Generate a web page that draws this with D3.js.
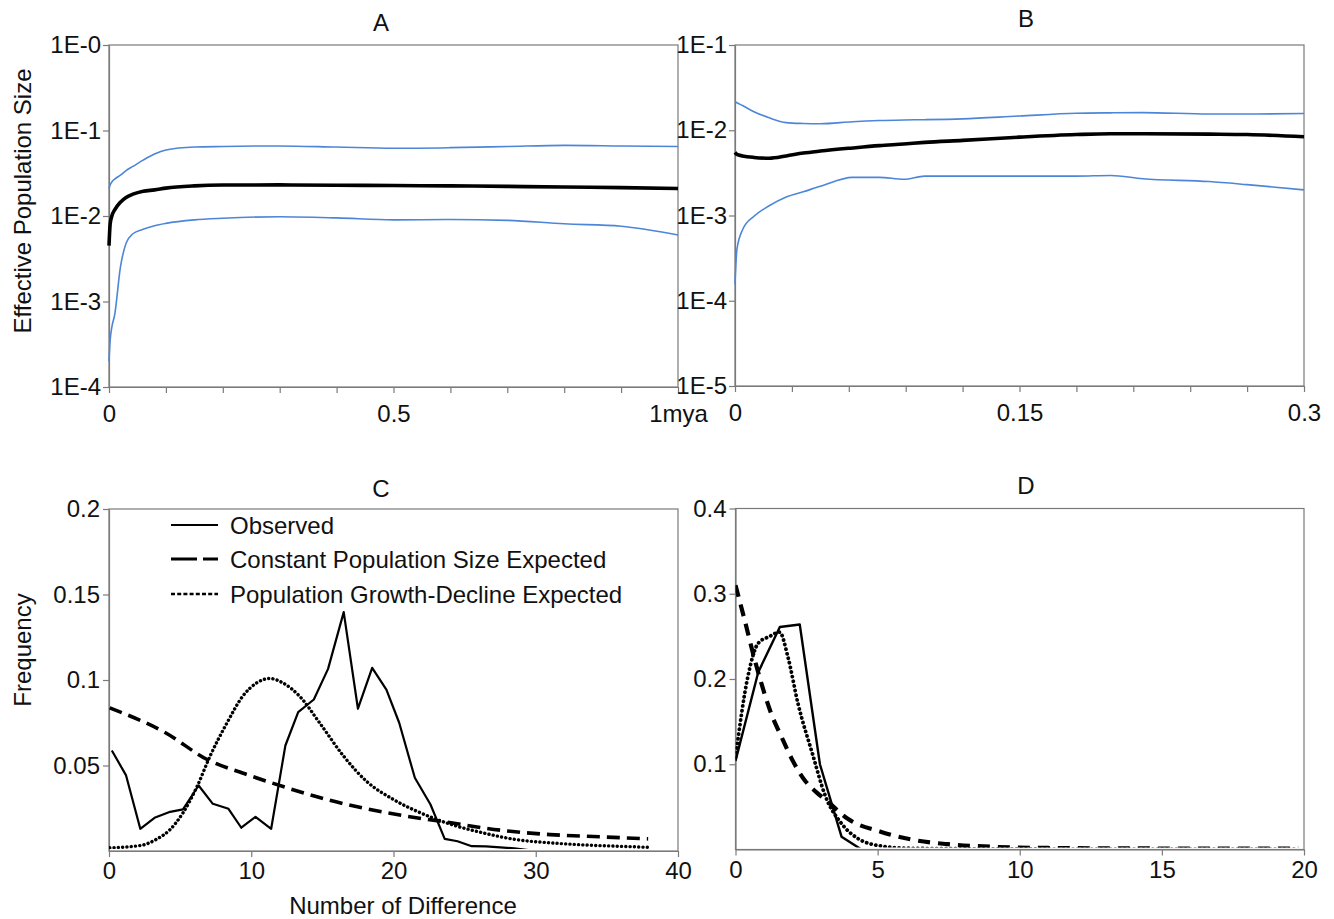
<!DOCTYPE html>
<html>
<head>
<meta charset="utf-8">
<script src="https://cdn.jsdelivr.net/npm/d3@7"></script>
<style>
  html, body { margin: 0; padding: 0; background: #fff; }
  svg { display: block; font-family: "Liberation Sans", Arial, sans-serif; }
</style>
</head>
<body>
<svg id="chart" width="1334" height="919"></svg>
<script>
// ---------------- Panel A (Bayesian skyline, 0 - 1 mya) ----------------
const aTime   = [0, 0.002, 0.005, 0.01, 0.02, 0.03, 0.042, 0.06, 0.08, 0.1, 0.15, 0.2, 0.3, 0.4, 0.5, 0.6, 0.7, 0.8, 0.9, 1.0];
const aMedian = [0.0045, 0.008, 0.010, 0.0118, 0.0145, 0.0165, 0.018, 0.0195, 0.0202, 0.0212, 0.0225, 0.023, 0.0231, 0.0229, 0.0227, 0.0225, 0.0222, 0.0218, 0.0215, 0.021];
const aUpper  = [0.021, 0.023, 0.025, 0.027, 0.030, 0.034, 0.038, 0.045, 0.053, 0.059, 0.064, 0.065, 0.066, 0.064, 0.062, 0.063, 0.065, 0.067, 0.066, 0.065];
const aLower  = [0.0002, 0.00035, 0.0005, 0.0007, 0.0025, 0.0048, 0.0062, 0.0070, 0.0077, 0.0082, 0.0090, 0.0094, 0.0098, 0.0095, 0.0090, 0.0091, 0.0089, 0.0081, 0.0076, 0.0060];
const aYTicks = [1, 0.1, 0.01, 0.001, 0.0001];
const aYTickLabels = ["1E-0", "1E-1", "1E-2", "1E-3", "1E-4"];
const aXTicks = [0, 0.1, 0.2, 0.3, 0.4, 0.5, 0.6, 0.7, 0.8, 0.9, 1.0];
const aXTickLabels = {0: "0", 0.5: "0.5", 1: "1mya"};

// ---------------- Panel B (Bayesian skyline, 0 - 0.3) ----------------
const bTime   = [0, 0.001, 0.004, 0.01, 0.018, 0.027, 0.036, 0.045, 0.062, 0.076, 0.089, 0.1, 0.12, 0.15, 0.18, 0.198, 0.215, 0.25, 0.27, 0.3];
const bMedian = [0.0055, 0.0052, 0.0050, 0.0048, 0.0047, 0.0050, 0.0054, 0.0057, 0.0062, 0.0066, 0.0069, 0.0072, 0.0076, 0.0083, 0.0089, 0.0091, 0.0091, 0.0090, 0.0089, 0.0084];
const bUpper  = [0.0216, 0.0210, 0.0195, 0.0165, 0.0140, 0.0123, 0.0120, 0.0119, 0.0126, 0.0130, 0.0132, 0.0133, 0.0136, 0.0147, 0.0158, 0.0160, 0.0161, 0.0155, 0.0155, 0.0157];
const bLower  = [0.000155, 0.0004, 0.00068, 0.00098, 0.0013, 0.00165, 0.0019, 0.0022, 0.0028, 0.0028, 0.00266, 0.0029, 0.0029, 0.0029, 0.0029, 0.00295, 0.0027, 0.0025, 0.0023, 0.0020];
const bYTicks = [0.1, 0.01, 0.001, 0.0001, 0.00001];
const bYTickLabels = ["1E-1", "1E-2", "1E-3", "1E-4", "1E-5"];
const bXTicks = [0, 0.03, 0.06, 0.09, 0.12, 0.15, 0.18, 0.21, 0.24, 0.27, 0.3];
const bXTickLabels = {0: "0", 0.15: "0.15", 0.3: "0.3"};

// ---------------- Panel C (mismatch distribution) ----------------
const cObsX = [0.2, 1.2, 2.2, 3.2, 4.3, 5.2, 6.3, 7.3, 8.4, 9.3, 10.3, 11.4, 12.4, 13.3, 14.4, 15.4, 16.5, 17.5, 18.5, 19.5, 20.4, 21.5, 22.6, 23.6, 24.5, 25.5, 26.5, 27.5, 28.5, 29.5, 33, 37.9];
const cObsY = [0.0588, 0.0442, 0.0130, 0.0194, 0.0229, 0.0243, 0.0383, 0.0276, 0.0247, 0.0136, 0.0200, 0.0130, 0.0617, 0.0812, 0.0886, 0.1065, 0.1397, 0.0832, 0.1071, 0.0944, 0.0750, 0.0428, 0.0272, 0.0071, 0.0057, 0.0028, 0.0027, 0.0021, 0.0015, 0.0005, 0.0003, 0.0002];
const cConstX = [0.05, 4.0, 6.9, 9.7, 12.5, 15.3, 18.1, 20.9, 23.7, 27.5, 31.0, 34.5, 37.9];
const cConstY = [0.0837, 0.0690, 0.0535, 0.0447, 0.0370, 0.0301, 0.0247, 0.0204, 0.0169, 0.0122, 0.0096, 0.0083, 0.0071];
const cGrowX = [0.05, 2.2, 3.3, 4.3, 5.2, 6.2, 7.1, 8.3, 9.4, 10.4, 11.3, 12.2, 13.4, 14.8, 16.5, 18.1, 20.0, 21.9, 23.7, 26.3, 28.6, 31.0, 33.3, 35.7, 37.9];
const cGrowY = [0.0019, 0.0032, 0.0067, 0.0126, 0.0223, 0.0379, 0.0554, 0.0750, 0.0905, 0.0984, 0.1009, 0.0984, 0.0905, 0.0750, 0.0554, 0.0408, 0.0301, 0.0223, 0.0165, 0.0106, 0.0067, 0.0048, 0.0036, 0.0028, 0.0022];
const cYTicks = [0.05, 0.1, 0.15, 0.2];
const cYTickLabels = ["0.05", "0.1", "0.15", "0.2"];
const cXTicks = [0, 10, 20, 30, 40];

// ---------------- Panel D (mismatch distribution) ----------------
const dObsX = [0, 0.8, 1.56, 2.26, 2.97, 3.73, 4.43, 6, 8, 10, 12, 14, 16, 18, 19.8];
const dObsY = [0.104, 0.208, 0.261, 0.264, 0.100, 0.015, 0.0, 0.0, 0.0, 0.0, 0.0, 0.0, 0.0, 0.0, 0.0];
const dConstX = [0, 0.3, 0.68, 0.91, 1.25, 1.62, 2.0, 2.44, 2.85, 3.25, 3.95, 5.13, 6.3, 7.47, 9.2, 11, 13, 15, 17, 19.8];
const dConstY = [0.310, 0.272, 0.222, 0.195, 0.160, 0.132, 0.105, 0.081, 0.067, 0.056, 0.036, 0.0206, 0.011, 0.0062, 0.003, 0.0018, 0.0014, 0.0012, 0.0012, 0.0012];
const dGrowX = [0, 0.43, 0.8, 1.2, 1.55, 1.85, 2.2, 2.7, 3.17, 3.74, 4.3, 5.13, 6, 8, 10, 12, 14, 16, 18, 19.8];
const dGrowY = [0.108, 0.202, 0.242, 0.250, 0.255, 0.225, 0.171, 0.113, 0.062, 0.030, 0.013, 0.004, 0.0015, 0.0008, 0.0006, 0.0005, 0.0005, 0.0005, 0.0005, 0.0005];
const dYTicks = [0.1, 0.2, 0.3, 0.4];
const dYTickLabels = ["0.1", "0.2", "0.3", "0.4"];
const dXTicks = [0, 5, 10, 15, 20];

const legendLabels = ["Observed", "Constant Population Size Expected", "Population Growth-Decline Expected"];

// ---------------- drawing ----------------
const svg = d3.select("#chart");
svg.append("rect").attr("width", 1334).attr("height", 919).attr("fill", "#fff");

const AXIS = "#7a7a7a";
const TEXT = "#111";
const BLUE = "#4d86d8";
const FS = 24;

function frame(g, x0, x1, y0, y1) {
  g.append("rect").attr("x", x0).attr("y", y0).attr("width", x1 - x0).attr("height", y1 - y0)
    .attr("fill", "none").attr("stroke", AXIS).attr("stroke-width", 1.2);
}

function styleAxis(sel) {
  sel.select(".domain").attr("stroke", AXIS).attr("stroke-width", 1.2);
  sel.selectAll(".tick line").attr("stroke", AXIS).attr("stroke-width", 1.2);
  sel.selectAll(".tick text").attr("fill", TEXT).attr("font-size", FS)
     .attr("font-family", "Liberation Sans, Arial, sans-serif");
}

function title(txt, x, y) {
  svg.append("text").attr("x", x).attr("y", y).attr("text-anchor", "middle")
    .attr("font-size", FS).attr("fill", TEXT).text(txt);
}

// Skyline panel
function skyline(opts) {
  const {x0, x1, y0, y1, xDom, yDom, time, med, up, lo, yTicks, yLabels, xTicks, xLabels} = opts;
  const x = d3.scaleLinear().domain(xDom).range([x0, x1]);
  const y = d3.scaleLog().domain(yDom).range([y1, y0]);
  const g = svg.append("g");
  frame(g, x0, x1, y0, y1);
  const xa = g.append("g").attr("transform", `translate(0,${y1})`)
    .call(d3.axisBottom(x).tickValues(xTicks).tickSizeInner(6).tickSizeOuter(0).tickPadding(12)
      .tickFormat(d => { const k = Object.keys(xLabels).find(kk => Math.abs(+kk - d) < 1e-9); return k !== undefined ? xLabels[k] : ""; }));
  styleAxis(xa);
  const ya = g.append("g").attr("transform", `translate(${x0},0)`)
    .call(d3.axisLeft(y).tickValues(yTicks).tickSizeInner(6).tickSizeOuter(0).tickPadding(2)
      .tickFormat((d, i) => yLabels[i]));
  styleAxis(ya);
  const line = arr => d3.line().x((d, i) => x(time[i])).y(d => y(d)).curve(d3.curveMonotoneX)(arr);
  g.append("path").attr("d", line(up)).attr("fill", "none").attr("stroke", BLUE).attr("stroke-width", 1.6);
  g.append("path").attr("d", line(lo)).attr("fill", "none").attr("stroke", BLUE).attr("stroke-width", 1.6);
  g.append("path").attr("d", line(med)).attr("fill", "none").attr("stroke", "#000").attr("stroke-width", 3.6);
}

skyline({x0: 109, x1: 678, y0: 45, y1: 387, xDom: [0, 1], yDom: [0.0001, 1],
  time: aTime, med: aMedian, up: aUpper, lo: aLower,
  yTicks: aYTicks, yLabels: aYTickLabels, xTicks: aXTicks, xLabels: aXTickLabels});
skyline({x0: 735, x1: 1304, y0: 45, y1: 386, xDom: [0, 0.3], yDom: [0.00001, 0.1],
  time: bTime, med: bMedian, up: bUpper, lo: bLower,
  yTicks: bYTicks, yLabels: bYTickLabels, xTicks: bXTicks, xLabels: bXTickLabels});

// Mismatch panel
function mismatch(opts) {
  const {x0, x1, y0, y1, xDom, yDom, yTicks, yLabels, xTicks, series} = opts;
  const x = d3.scaleLinear().domain(xDom).range([x0, x1]);
  const y = d3.scaleLinear().domain(yDom).range([y1, y0]);
  const g = svg.append("g");
  frame(g, x0, x1, y0, y1);
  const xa = g.append("g").attr("transform", `translate(0,${y1})`)
    .call(d3.axisBottom(x).tickValues(xTicks).tickSizeInner(6).tickSizeOuter(0).tickPadding(5).tickFormat(d3.format("d")));
  styleAxis(xa);
  const ya = g.append("g").attr("transform", `translate(${x0},0)`)
    .call(d3.axisLeft(y).tickValues(yTicks).tickSizeInner(6).tickSizeOuter(0).tickPadding(3)
      .tickFormat((d, i) => yLabels[i]));
  styleAxis(ya);
  const clipId = "clip" + Math.round(x0) + Math.round(y0);
  g.append("clipPath").attr("id", clipId).append("rect")
    .attr("x", x0).attr("y", y0 - 5).attr("width", x1 - x0).attr("height", y1 - y0 + 3);
  series.forEach(s => {
    const ln = d3.line().x((d, i) => x(s.xs[i])).y(d => y(d))
      .curve(s.smooth ? d3.curveMonotoneX : d3.curveLinear);
    const p = g.append("path").attr("d", ln(s.ys)).attr("fill", "none").attr("stroke", "#000")
      .attr("stroke-width", s.w).attr("stroke-linejoin", "round").attr("clip-path", `url(#${clipId})`);
    if (s.dash) p.attr("stroke-dasharray", s.dash);
    if (s.round) p.attr("stroke-linecap", "round");
  });
}

mismatch({x0: 109, x1: 678, y0: 509, y1: 851, xDom: [0, 40], yDom: [0, 0.2],
  yTicks: cYTicks, yLabels: cYTickLabels, xTicks: cXTicks,
  series: [
    {xs: cConstX, ys: cConstY, w: 3.6, dash: "13,7", smooth: true},
    {xs: cGrowX, ys: cGrowY, w: 3.4, dash: "0.1,4.2", smooth: true, round: true},
    {xs: cObsX, ys: cObsY, w: 2.2, dash: null, smooth: false}
  ]});
mismatch({x0: 735.5, x1: 1304, y0: 508.5, y1: 849.5, xDom: [0, 20], yDom: [0, 0.4],
  yTicks: dYTicks, yLabels: dYTickLabels, xTicks: dXTicks,
  series: [
    {xs: dConstX, ys: dConstY, w: 4.2, dash: "12,8", smooth: true},
    {xs: dGrowX, ys: dGrowY, w: 3.8, dash: "0.1,4.6", smooth: true, round: true},
    {xs: dObsX, ys: dObsY, w: 2.4, dash: null, smooth: false}
  ]});

// Legend (panel C)
const legStyles = [
  {w: 2.2, dash: null, round: false},
  {w: 3.2, dash: "26,6", round: false},
  {w: 2.4, dash: "4,2.2", round: false}
];
const legY = [525, 559, 594];
legendLabels.forEach((lab, i) => {
  const ln = svg.append("line").attr("x1", 171).attr("x2", 218).attr("y1", legY[i]).attr("y2", legY[i])
    .attr("stroke", "#000").attr("stroke-width", legStyles[i].w);
  if (legStyles[i].dash) ln.attr("stroke-dasharray", legStyles[i].dash);
  if (legStyles[i].round) ln.attr("stroke-linecap", "round");
  svg.append("text").attr("x", 230).attr("y", legY[i] + 8.5).attr("font-size", FS).attr("fill", TEXT).text(lab);
});

// Titles
title("A", 381, 31);
title("B", 1026, 27);
title("C", 381, 497);
title("D", 1026, 494);

// Axis titles
svg.append("text").attr("transform", "translate(31,201) rotate(-90)").attr("text-anchor", "middle")
  .attr("font-size", FS).attr("fill", TEXT).text("Effective Population Size");
svg.append("text").attr("transform", "translate(31,650) rotate(-90)").attr("text-anchor", "middle")
  .attr("font-size", FS).attr("fill", TEXT).text("Frequency");
svg.append("text").attr("x", 403).attr("y", 914).attr("text-anchor", "middle")
  .attr("font-size", FS).attr("fill", TEXT).text("Number of Difference");
</script>
</body>
</html>
